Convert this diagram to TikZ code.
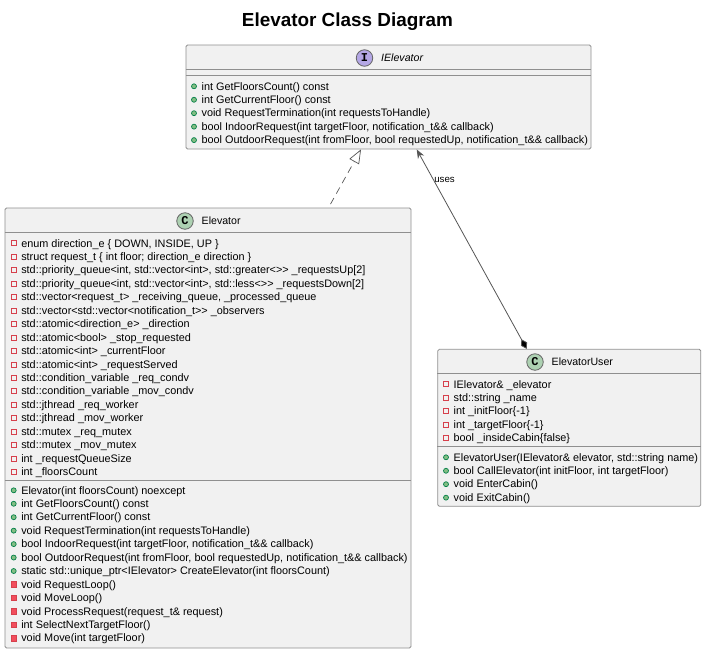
\documentclass[tikz,border=0pt]{standalone}
\usepackage{fontspec}
\setmainfont{Liberation Sans}
\setmonofont{Liberation Mono}
\usetikzlibrary{arrows.meta,positioning}
\definecolor{boxfill}{HTML}{F1F1F1}
\definecolor{boxline}{HTML}{8F8F8F}
\definecolor{linkline}{HTML}{555555}
\definecolor{privline}{HTML}{D6404C}
\definecolor{privfill}{HTML}{F24D5C}
\definecolor{publine}{HTML}{038048}
\definecolor{pubfill}{HTML}{84BE84}
\definecolor{classcirc}{HTML}{ADD1B2}
\definecolor{ifacecirc}{HTML}{B4A7E5}
% keeps two > from turning into one quote sign
\newcommand{\gtgt}{>\kern0pt>}
% one row per member: icon at x, text right of it
\newcommand{\memberrows}[5]{%
  \foreach \txt [count=\i, evaluate=\i as \rowy using #3+(\i-1)*13.45] in {#5} {
    \node[#4] (#1\i) at (#2,\rowy) {};
    \node[member, right=7.4pt of #1\i.center] (#1\i t) {\txt};
  }%
}
\begin{document}
\begin{tikzpicture}[x=1pt,y=-1pt]
\tikzstyle{classbox}=[draw=boxline, fill=boxfill, line width=0.8pt, rounded corners=1.5pt, inner sep=0pt]
\tikzstyle{sepline}=[draw=boxline, line width=0.8pt]
\tikzstyle{member}=[anchor=west, inner sep=0pt, font=\fontsize{10.86}{12}\selectfont, text height=8.6pt, text depth=1.2pt]
\tikzstyle{classname}=[inner sep=0pt, font=\fontsize{10.6}{12}\selectfont, anchor=west, text height=8.6pt, text depth=1.2pt]
\tikzstyle{badge}=[draw=boxline!70!black, line width=0.8pt, circle, minimum size=16.5pt, inner sep=0pt, font=\ttfamily\bfseries\fontsize{12}{12}\selectfont]
\tikzstyle{privattr}=[draw=privline, fill=boxfill, line width=0.7pt, rectangle, minimum size=5pt, inner sep=0pt]
\tikzstyle{privmeth}=[draw=privline, fill=privfill, line width=0.5pt, rectangle, minimum size=5.5pt, inner sep=0pt]
\tikzstyle{pubmeth}=[draw=publine, fill=pubfill, line width=0.7pt, circle, minimum size=5pt, inner sep=0pt]
\useasboundingbox (0,0) rectangle (708,654);

\node[font=\bfseries\fontsize{18.9}{20}\selectfont, inner sep=0pt] (title) at (347.5,22) {Elevator Class Diagram};

%IElevator
\node[classbox, minimum width=405pt, minimum height=104pt] (ielevator) at (388.5,97) {};
\node[badge, fill=ifacecirc] (ielevatorbadge) at (364.5,58) {I};
\node[classname, font=\itshape\fontsize{10.6}{12}\selectfont, right=16.5pt of ielevatorbadge.center] (ielevatorname) {IElevator};
\draw[sepline] (ielevator.west |- 0,69.5) -- (ielevator.east |- 0,69.5);
\draw[sepline] (ielevator.west |- 0,75.7) -- (ielevator.east |- 0,75.7);
\memberrows{imeth}{194}{86.3}{pubmeth}{{int GetFloorsCount() const},{int GetCurrentFloor() const},{void RequestTermination(int requestsToHandle)},{bool IndoorRequest(int targetFloor, notification\_t\&\& callback)},{bool OutdoorRequest(int fromFloor, bool requestedUp, notification\_t\&\& callback)}}

%Elevator
\node[classbox, minimum width=406pt, minimum height=440pt] (elevator) at (208,428) {};
\node[badge, fill=classcirc] (elevatorbadge) at (185,221) {C};
\node[classname, right=16.5pt of elevatorbadge.center] (elevatorname) {Elevator};
\draw[sepline] (elevator.west |- 0,232.8) -- (elevator.east |- 0,232.8);
\draw[sepline] (elevator.west |- 0,480.3) -- (elevator.east |- 0,480.3);
\memberrows{eattr}{13.7}{243.3}{privattr}{{enum direction\_e \{ DOWN, INSIDE, UP \}},{struct request\_t \{ int floor; direction\_e direction \}},{std::priority\_queue<int, std::vector<int>, std::greater<\gtgt{} \_requestsUp[2]},{std::priority\_queue<int, std::vector<int>, std::less<\gtgt{} \_requestsDown[2]},{std::vector<request\_t> \_receiving\_queue, \_processed\_queue},{std::vector<std::vector<notification\_t\gtgt{} \_observers},{std::atomic<direction\_e> \_direction},{std::atomic<bool> \_stop\_requested},{std::atomic<int> \_currentFloor},{std::atomic<int> \_requestServed},{std::condition\_variable \_req\_condv},{std::condition\_variable \_mov\_condv},{std::jthread \_req\_worker},{std::jthread \_mov\_worker},{std::mutex \_req\_mutex},{std::mutex \_mov\_mutex},{int \_requestQueueSize},{int \_floorsCount}}
\memberrows{emeth}{13.7}{490.3}{pubmeth}{{Elevator(int floorsCount) noexcept},{int GetFloorsCount() const},{int GetCurrentFloor() const},{void RequestTermination(int requestsToHandle)},{bool IndoorRequest(int targetFloor, notification\_t\&\& callback)},{bool OutdoorRequest(int fromFloor, bool requestedUp, notification\_t\&\& callback)},{static std::unique\_ptr<IElevator> CreateElevator(int floorsCount)}}
\memberrows{epriv}{13.7}{584.4}{privmeth}{{void RequestLoop()},{void MoveLoop()},{void ProcessRequest(request\_t\& request)},{int SelectNextTargetFloor()},{void Move(int targetFloor)}}

%ElevatorUser
\node[classbox, minimum width=263pt, minimum height=157pt] (user) at (569.3,427.8) {};
\node[badge, fill=classcirc] (userbadge) at (535,362) {C};
\node[classname, right=16.5pt of userbadge.center] (username) {ElevatorUser};
\draw[sepline] (user.west |- 0,373.4) -- (user.east |- 0,373.4);
\draw[sepline] (user.west |- 0,446.7) -- (user.east |- 0,446.7);
\memberrows{uattr}{446}{384.3}{privattr}{{IElevator\& \_elevator},{std::string \_name},{int \_initFloor\{-1\}},{int \_targetFloor\{-1\}},{bool \_insideCabin\{false\}}}
\memberrows{umeth}{446}{457.3}{pubmeth}{{ElevatorUser(IElevator\& elevator, std::string name)},{bool CallElevator(int initFloor, int targetFloor)},{void EnterCabin()},{void ExitCabin()}}

%links
\coordinate (implstart) at ([xshift=122.5pt,yshift=3.5pt]elevator.north);
\coordinate (implend) at ([xshift=-27.5pt]ielevator.south);
\coordinate (usesend) at ([xshift=28.2pt]ielevator.south);
\coordinate (usesstart) at ([xshift=-42.6pt]user.north);
\draw[draw=linkline, line width=0.7pt, dash pattern=on 7pt off 5pt, -{Triangle[open, fill=white, length=14pt, width=11pt]}] (implstart) -- (implend);
\draw[draw=linkline, line width=0.8pt, {Stealth[length=9pt, width=7pt, fill=linkline]}-{Turned Square[length=11pt, width=7pt, fill=black]}] (usesend) -- (usesstart);
\node[font=\fontsize{9.7}{10}\selectfont, inner sep=0pt] (useslabel) at (444.5,180.3) {uses};
\end{tikzpicture}
\end{document}
